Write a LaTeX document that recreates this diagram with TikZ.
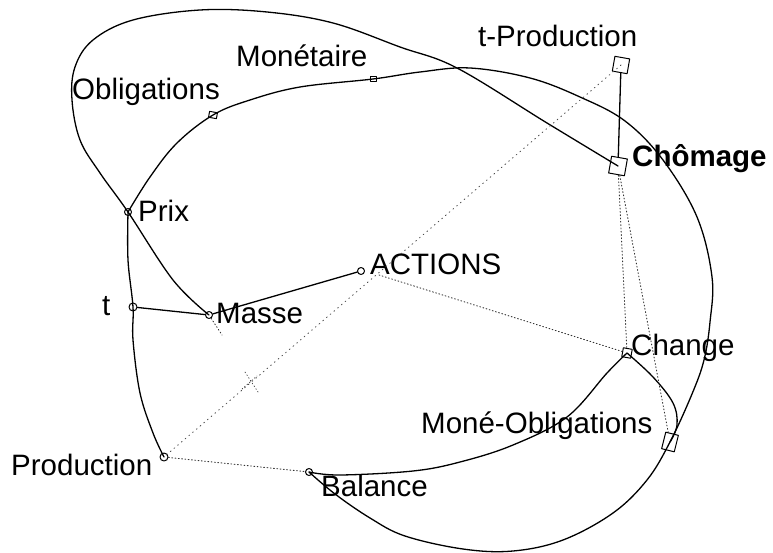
\documentclass[tikz,border=0pt]{standalone}
\usepackage{fontspec}
\setmainfont{Liberation Sans}
\begin{document}
\begin{tikzpicture}[x=1pt,y=-1pt,line join=round,line cap=round,
  curve/.style={line width=1.3pt},
  link/.style={line width=0.9pt,dash pattern=on 0.9pt off 2.4pt,black!80},
  sparse/.style={line width=0.85pt,dash pattern=on 0.9pt off 4pt,black!70},
  dot/.style={circle,draw,line width=1pt,inner sep=0pt,minimum size=7pt},
  box/.style={rectangle,draw,line width=1pt,inner sep=0pt},
  lab/.style={anchor=base west,inner sep=0pt,font=\fontsize{29.5}{34}\selectfont}]
\useasboundingbox (0,0) rectangle (773,553);

% variable markers
\node[dot] (prix) at (128,212) {};
\node[box,minimum width=8pt,minimum height=6pt,rotate=-10] (obl) at (213,115) {};
\node[box,minimum width=6pt,minimum height=5pt] (mon) at (373,79) {};
\node[box,minimum width=15pt,minimum height=15pt,rotate=-10] (tprod) at (621,65) {};
\node[box,minimum width=16pt,minimum height=17pt,rotate=-10] (chom) at (618,166) {};
\node[dot,minimum size=8pt] (t) at (133,307) {};
\node[dot] (masse) at (209,315) {};
\node[dot] (act) at (361,271) {};
\node[box,minimum width=9pt,minimum height=9pt,rotate=-10] (chg) at (627,353) {};
\node[box,minimum width=13pt,minimum height=17pt,rotate=-14] (mo) at (670,442) {};
\node[dot,minimum size=8pt] (prod) at (164,457) {};
\node[dot] (bal) at (309,472) {};

% labels
\node[lab] (lobl) at (72,100) {Obligations};
\node[lab] (lmon) at (236,67) {Monétaire};
\node[lab] (ltprod) at (478,47) {t-Production};
\node[lab,font=\fontsize{29.5}{34}\selectfont\bfseries] (lchom) at (632,167) {Chômage};
\node[lab] (lprix) at (138,222) {Prix};
\node[lab] (lact) at (370,274) {ACTIONS};
\node[lab] (lt) at (102,315) {t};
\node[lab] (lmasse) at (216,323) {Masse};
\node[lab] (lchg) at (631,355) {Change};
\node[lab] (lmo) at (421,433) {Moné-Obligations};
\node[lab] (lprod) at (11,475) {Production};
\node[lab] (lbal) at (321,496) {Balance};

% large loop: Masse - Prix - over the top - Chômage
\draw[curve] plot[smooth,tension=0.6] coordinates {(masse.center) (173,280) (prix.center)
  (100,173) (80,140) (72,100) (75,67) (93,40) (133,20) (200,10) (267,12) (333,23)
  (400,47) (457,68) (547,123) (chom.center)};

% Production - t - Prix
\draw[curve] plot[smooth,tension=0.6] coordinates {(prod.center) (153,433) (140,393)
  (133,340) (t.center) (128,260) (prix.center)};

% Prix - Obligations - Monétaire - outer arc - Moné-Obligations - Balance
\draw[curve] plot[smooth,tension=0.6] coordinates {(prix.center) (150,177) (177,143)
  (obl.center) (250,100) (300,87) (mon.center) (420,72) (470,68) (530,78) (580,97)
  (625,121) (663,160) (697,217) (712,277) (710,322) (704,360) (692,394) (mo.center)
  (647,480) (613,513) (563,540) (513,551) (463,549) (405,536) (370,518) (335,494)
  (bal.center)};

% Balance - Change - Moné-Obligations
\draw[curve] plot[smooth,tension=0.6] coordinates {(bal.center) (340,475) (413,471)
  (460,462) (513,445) (567,417) (607,373) (chg.center)};
\draw[curve] plot[smooth,tension=0.6] coordinates {(chg.center) (653,377) (673,403)
  (677,425) (mo.center)};

% straight links
\draw[curve] (tprod) -- (chom);
\draw[curve] (t) -- (masse);
\draw[curve] (masse) -- (act);

% dotted links
\draw[sparse] (tprod.center) -- (prod.center);
\draw[link] ([shift={(9,1)}]lact.base west) -- (chg);
\draw[link] (prod) -- (bal);
\draw[link] (chom) -- (chg);
\draw[link] (chom) -- (mo);

% small dotted marks
\draw[link] (masse) -- (222,335);
\draw[link,line width=0.7pt] (245,372) -- (258,392) (242,389) -- (257,376);
\end{tikzpicture}
\end{document}
